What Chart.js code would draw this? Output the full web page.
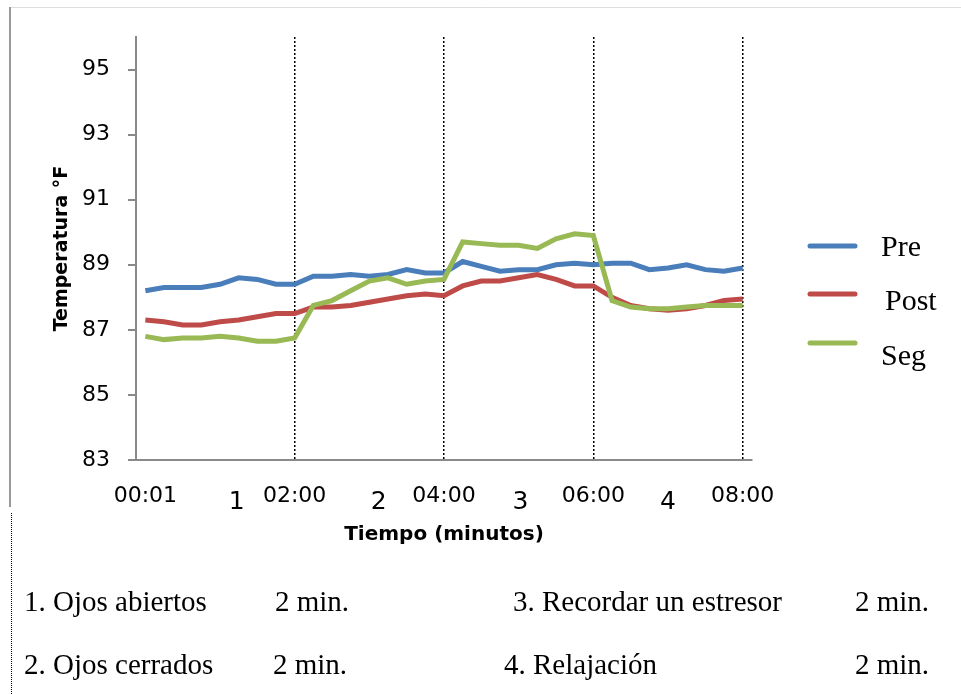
<!DOCTYPE html>
<html>
<head>
<meta charset="utf-8">
<script src="https://cdn.jsdelivr.net/npm/chart.js@4"></script>
<style>
  html, body { margin: 0; padding: 0; background: #fff; }
  canvas { display: block; }
</style>
</head>
<body>
<canvas id="c" width="961" height="694"></canvas>
<script>
// Readings every 15 seconds over the 8-minute session
const timeLabels = [
  '00:01', '00:15', '00:30', '00:45', '01:00', '01:15', '01:30', '01:45',
  '02:00', '02:15', '02:30', '02:45', '03:00', '03:15', '03:30', '03:45',
  '04:00', '04:15', '04:30', '04:45', '05:00', '05:15', '05:30', '05:45',
  '06:00', '06:15', '06:30', '06:45', '07:00', '07:15', '07:30', '07:45',
  '08:00'
];

const pre = [
  88.2, 88.3, 88.3, 88.3, 88.4, 88.6, 88.55, 88.4,
  88.4, 88.65, 88.65, 88.7, 88.65, 88.7, 88.85, 88.75,
  88.75, 89.1, 88.95, 88.8, 88.85, 88.85, 89.0, 89.05,
  89.0, 89.05, 89.05, 88.85, 88.9, 89.0, 88.85, 88.8,
  88.9
];

const post = [
  87.3, 87.25, 87.15, 87.15, 87.25, 87.3, 87.4, 87.5,
  87.5, 87.7, 87.7, 87.75, 87.85, 87.95, 88.05, 88.1,
  88.05, 88.35, 88.5, 88.5, 88.6, 88.7, 88.55, 88.35,
  88.35, 88.0, 87.75, 87.65, 87.6, 87.65, 87.75, 87.9,
  87.95
];

const seg = [
  86.8, 86.7, 86.75, 86.75, 86.8, 86.75, 86.65, 86.65,
  86.75, 87.75, 87.9, 88.2, 88.5, 88.6, 88.4, 88.5,
  88.55, 89.7, 89.65, 89.6, 89.6, 89.5, 89.8, 89.95,
  89.9, 87.9, 87.7, 87.65, 87.65, 87.7, 87.75, 87.75,
  87.75
];

const seriesNames = ['Pre', 'Post', 'Seg'];
const yTicks = [83, 85, 87, 89, 91, 93, 95];
const shownTimes = ['00:01', '02:00', '04:00', '06:00', '08:00'];
const phaseEnds = ['02:00', '04:00', '06:00', '08:00'];
const phaseNumbers = ['1', '2', '3', '4'];
const phaseNotes = [
  ['1. Ojos abiertos', '2 min.'],
  ['2. Ojos cerrados', '2 min.'],
  ['3. Recordar un estresor', '2 min.'],
  ['4. Relajación', '2 min.']
];

const colors = ['#4a7ebb', '#be4b48', '#98b954'];
const sansFont = "'DejaVu Sans', sans-serif";
const serifFont = "'Liberation Serif', 'Times New Roman', serif";

// Page frame, phase numbers, legend and the phase notes under the chart
const decorations = {
  id: 'decorations',
  beforeDraw(chart) {
    const ctx = chart.ctx;
    ctx.save();
    ctx.fillStyle = '#fff';
    ctx.fillRect(0, 0, chart.width, chart.height);
    ctx.strokeStyle = '#dddddd';
    ctx.lineWidth = 1;
    ctx.beginPath();
    ctx.moveTo(10, 7.5);
    ctx.lineTo(chart.width, 7.5);
    ctx.stroke();
    ctx.strokeStyle = '#9a9a9a';
    ctx.lineWidth = 2;
    ctx.beginPath();
    ctx.moveTo(10, 7);
    ctx.lineTo(10, 507);
    ctx.stroke();
    ctx.strokeStyle = '#000';
    ctx.lineWidth = 1;
    ctx.setLineDash([1, 1]);
    ctx.beginPath();
    ctx.moveTo(11.5, 513);
    ctx.lineTo(11.5, chart.height);
    ctx.stroke();
    ctx.restore();
  },
  afterDraw(chart) {
    const ctx = chart.ctx;
    const x = chart.scales.x;
    ctx.save();

    // Phase numbers between the phase boundaries
    const phasePos = [4.9, 12.5, 20.1, 28];
    ctx.fillStyle = '#000';
    ctx.font = '25px ' + sansFont;
    ctx.textAlign = 'center';
    ctx.textBaseline = 'middle';
    phaseNumbers.forEach((n, i) => {
      ctx.fillText(n, x.getPixelForValue(phasePos[i]), 502);
    });

    // Legend
    const lineY = [246, 294, 343];
    const textX = [881, 885, 881];
    const textY = [256, 310, 365];
    ctx.lineCap = 'round';
    ctx.lineWidth = 5;
    ctx.font = '30px ' + serifFont;
    ctx.textAlign = 'left';
    ctx.textBaseline = 'alphabetic';
    seriesNames.forEach((name, i) => {
      ctx.strokeStyle = colors[i];
      ctx.beginPath();
      ctx.moveTo(810, lineY[i]);
      ctx.lineTo(855, lineY[i]);
      ctx.stroke();
      ctx.fillText(name, textX[i], textY[i]);
    });

    // Phase notes
    ctx.font = '29px ' + serifFont;
    const notePos = [
      [24, 275, 611], [24, 273, 674], [513, 855, 611], [504, 855, 674]
    ];
    phaseNotes.forEach((note, i) => {
      const p = notePos[i];
      ctx.fillText(note[0], p[0], p[2]);
      ctx.fillText(note[1], p[1], p[2]);
    });
    ctx.restore();
  }
};

new Chart(document.getElementById('c'), {
  type: 'line',
  data: {
    labels: timeLabels,
    datasets: [pre, post, seg].map((values, i) => ({
      label: seriesNames[i],
      data: values,
      borderColor: colors[i],
      backgroundColor: colors[i],
      borderWidth: 5,
      pointRadius: 0,
      tension: 0,
      fill: false,
      order: 2 - i
    }))
  },
  options: {
    responsive: false,
    animation: false,
    devicePixelRatio: 1,
    layout: { padding: { top: 37, right: 209, bottom: 0, left: 0 } },
    plugins: {
      legend: { display: false },
      tooltip: { enabled: false }
    },
    scales: {
      x: {
        type: 'category',
        offset: true,
        afterFit(s) { s.height = 234; },
        grid: {
          offset: false,
          drawTicks: false,
          lineWidth: 1.5,
          color(c) {
            return phaseEnds.includes(timeLabels[c.index]) ? '#000' : 'rgba(0,0,0,0)';
          }
        },
        border: { color: '#898989', width: 2, dash: [2, 2] },
        ticks: {
          autoSkip: false,
          maxRotation: 0,
          padding: 23,
          color: '#000',
          font: { family: sansFont, size: 22 },
          callback(v, i) {
            const l = timeLabels[i];
            return shownTimes.includes(l) ? l : '';
          }
        },
        title: {
          display: true,
          text: 'Tiempo (minutos)',
          color: '#000',
          font: { family: sansFont, size: 20, weight: 'bold' },
          padding: { top: 0, bottom: 147 }
        }
      },
      y: {
        min: 83,
        max: 96,
        afterFit(s) { s.width = 136; },
        afterBuildTicks(s) { s.ticks = yTicks.map(v => ({ value: v })); },
        grid: {
          drawOnChartArea: false,
          drawTicks: true,
          tickLength: 8,
          color: '#898989',
          lineWidth: 2
        },
        border: { color: '#898989', width: 2 },
        ticks: {
          padding: 18,
          color: '#000',
          font: { family: sansFont, size: 22 }
        },
        title: {
          display: true,
          text: 'Temperatura °F',
          color: '#000',
          font: { family: sansFont, size: 19, weight: 'bold' },
          padding: { top: 50.6, bottom: 0 }
        }
      }
    }
  },
  plugins: [decorations]
});
</script>
</body>
</html>
